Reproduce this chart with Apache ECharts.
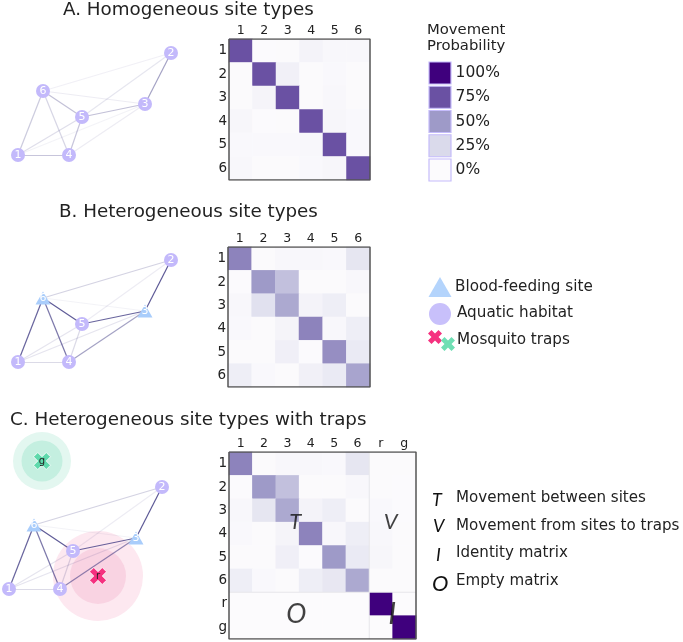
<!DOCTYPE html>
<html><head><meta charset="utf-8">
<style>html,body{margin:0;padding:0;background:#fff}#c{width:683px;height:642px}</style>
<script src="https://cdn.jsdelivr.net/npm/echarts@6/dist/echarts.min.js"></script>
</head><body><div id="c"></div>
<script>
const sites = ['1','2','3','4','5','6'];
const trapNames = ['r','g'];
const matrixA = [
 [75,.5,1,6,3,3],
 [1,75,8,1,2,1],
 [1,5,75,1,3,1],
 [4,.5,1,75,4,2],
 [2,2,2,3,75,2],
 [3,1,1,2,4,75]];
const matrixB = [
 [58,1,3,3,2,16],
 [.5,50,35,1,1,3],
 [3,20,44,6,10,1],
 [2,1,5,58,3,10],
 [1,1,9,.5,54,13],
 [10,2,1,8,13,46]];
const matrixC = [
 [58,1,3,3,2,16,1,1],
 [.5,50,35,1,1,3,1,.5],
 [3,16,44,6,10,1,2,.5],
 [2,1,5,58,3,10,3,1],
 [1,1,9,.5,50,13,4,1],
 [10,2,1,10,15,44,1,1],
 [0,0,0,0,0,0,100,0],
 [0,0,0,0,0,0,0,100]];
const siteX = [0,153,127,51,64,25];
const siteY = [0,102,51,0,38,64];
const linkPairs = [[0,3],[0,5],[0,4],[3,4],[3,5],[4,5],[2,4],[1,2],[1,5],[1,4],[2,5],[2,3],[0,2]];
const linkWeightsA = [.28,.25,.16,.28,.2,.3,.3,.45,.07,.12,.09,.09,.06];
const linkWeightsB = [.18,.75,.13,.18,.65,.8,.75,.8,.22,.09,.06,.45,.13];
const linkWeightsC = [.18,.75,.13,.18,.65,.8,.75,.8,.22,.09,.06,.55,.13];
const blood = [2,5];
const trapX = [89,33];
const trapY = [13,128];
const legendValues = [100,75,50,25,0];
const ramp = ['#fcfbfd','#dadaeb','#9e9ac8','#6a51a3','#3f007d'];
const FONT = 'DejaVu Sans', INK = '#222';
const cross='path://M2.5 0L5 2.5L7.5 0L10 2.5L7.5 5L10 7.5L7.5 10L5 7.5L2.5 10L0 7.5L2.5 5L0 2.5Z';

const grid=[], xAxis=[], yAxis=[], series=[], heatIdx=[];

function matrixPanel(matrix, labels, rect, dividers){
  const g = grid.length, n = labels.length;
  const cat = (inv,extra)=>Object.assign({type:'category',data:labels,gridIndex:g,inverse:inv,
    axisLine:{show:false},axisTick:{show:false},splitLine:{show:false}},extra);
  xAxis.push(cat(false,{position:'top',axisLabel:{fontFamily:FONT,color:INK,fontSize:12.5,margin:2,interval:0}}));
  yAxis.push(cat(true,{axisLabel:{fontFamily:FONT,color:INK,fontSize:13.5,margin:2,interval:0}}));
  grid.push(rect);
  const vx = xAxis.length, vy = yAxis.length;
  xAxis.push({type:'value',show:false,min:0,max:n,gridIndex:g,splitLine:{show:false}});
  yAxis.push({type:'value',show:false,min:0,max:n,gridIndex:g,inverse:true,splitLine:{show:false}});
  const cells=[];
  matrix.forEach((row,r)=>row.forEach((v,c)=>cells.push([c,r,v])));
  heatIdx.push(series.length);
  series.push({type:'heatmap',xAxisIndex:vx-1,yAxisIndex:vy-1,data:cells,silent:true,z:2,
    itemStyle:{borderWidth:0},emphasis:{disabled:true}});
  if(dividers) dividers.forEach(d=>series.push({type:'line',xAxisIndex:vx,yAxisIndex:vy,silent:true,symbol:'none',z:3,
    data:d,lineStyle:{color:'#e6e6ea',width:1}}));
  series.push({type:'line',xAxisIndex:vx,yAxisIndex:vy,silent:true,symbol:'none',z:4,
    data:[[0,0],[n,0],[n,n],[0,n],[0,0]],lineStyle:{color:'#555',width:1.5}});
  return {vx,vy};
}

function network(weights, triangles, rect, traps){
  const g = grid.length;
  grid.push(rect);
  const xi = xAxis.length, yi = yAxis.length;
  xAxis.push({type:'value',show:false,min:-9,max:191,gridIndex:g,splitLine:{show:false}});
  yAxis.push({type:'value',show:false,min:-30,max:140,gridIndex:g,splitLine:{show:false}});
  if(traps){
    series.push({type:'scatter',xAxisIndex:xi,yAxisIndex:yi,silent:true,z:1,data:[
      {value:[trapX[0],trapY[0]],symbolSize:90,itemStyle:{color:'#fde8f0',opacity:1}},
      {value:[trapX[0],trapY[0]],symbolSize:56,itemStyle:{color:'#f9d3e2',opacity:1}},
      {value:[trapX[1],trapY[1]],symbolSize:58,itemStyle:{color:'#e3f7f0',opacity:1}},
      {value:[trapX[1],trapY[1]],symbolSize:41,itemStyle:{color:'#c4efe0',opacity:1}}]});
  }
  series.push({type:'graph',coordinateSystem:'cartesian2d',xAxisIndex:xi,yAxisIndex:yi,layout:'none',silent:true,z:2,
    data:sites.map((s,i)=>{
      const tri = triangles.includes(i);
      return {name:s,value:[siteX[i],siteY[i]],symbol:tri?'triangle':'circle',symbolSize:tri?[15,13]:14,
        itemStyle:{color:tri?'#a9cdfb':'#c3b9fb',opacity:1},
        label:{show:true,position:'inside',color:'#fff',fontSize:11,fontFamily:FONT,formatter:s}};
    }),
    links:linkPairs.map((p,i)=>({source:p[0],target:p[1],
      lineStyle:{color:'#35307c',width:1.2,opacity:weights[i],curveness:0}}))});
  if(traps){
    series.push({type:'scatter',xAxisIndex:xi,yAxisIndex:yi,silent:true,z:3,symbol:cross,symbolSize:17,
      label:{show:true,position:'inside',color:'#222',fontSize:10,fontFamily:FONT,formatter:p=>p.name},
      data:[
      {name:trapNames[0],value:[trapX[0],trapY[0]],itemStyle:{color:'#f5317f',borderColor:'#fff',borderWidth:.8,opacity:1}},
      {name:trapNames[1],value:[trapX[1],trapY[1]],itemStyle:{color:'#5fd9ac',borderColor:'#fff',borderWidth:.8,opacity:1}}]});
  }
}

matrixPanel(matrixA,sites,{left:229,top:39,width:141,height:141});
matrixPanel(matrixB,sites,{left:228,top:247,width:142,height:140});
const cPanel = matrixPanel(matrixC,sites.concat(trapNames),{left:229,top:452,width:187,height:187},
  [[[6,0],[6,8]],[[0,6],[8,6]]]);
// block letters
const blockLetters = [['T',2.83,2.97,22],['V',6.92,2.97,22],['O',2.88,6.93,27],['I',6.98,6.93,30]];
series.push({type:'scatter',xAxisIndex:cPanel.vx,yAxisIndex:cPanel.vy,silent:true,z:6,symbolSize:0,
  data:blockLetters.map(b=>({name:b[0],value:[b[1],b[2]],
    label:{fontSize:b[3]}})),
  label:{show:true,position:'inside',formatter:p=>p.name,fontFamily:'Lato',fontStyle:'italic',fontWeight:400,color:'#111'}});

network(linkWeightsA,[],{left:9,top:15,width:200,height:170},false);
network(linkWeightsB,blood,{left:9,top:222,width:200,height:170},false);
network(linkWeightsC,blood,{left:0,top:449,width:200,height:170},true);

// colour scale legend
{
  const g = grid.length;
  grid.push({left:429,top:73,width:22,height:97});
  const xi=xAxis.length, yi=yAxis.length;
  xAxis.push({type:'value',show:false,min:-1,max:1,gridIndex:g,splitLine:{show:false}});
  yAxis.push({type:'value',show:false,min:0,max:100,inverse:true,gridIndex:g,splitLine:{show:false}});
  heatIdx.push(series.length);
  series.push({type:'scatter',xAxisIndex:xi,yAxisIndex:yi,silent:true,z:2,symbol:'rect',symbolSize:22,
    data:legendValues.map((v,i)=>[0,i*25,v]),
    encode:{x:0,y:1},
    itemStyle:{borderColor:'#c5bcfb',borderWidth:1.2,opacity:1},
    label:{show:true,position:'right',distance:4,fontFamily:FONT,fontSize:15.5,color:INK,formatter:p=>p.value[2]+'%'}});
}
// site legend keys
{
  const g = grid.length;
  grid.push({left:420,top:280,width:40,height:70});
  const xi=xAxis.length, yi=yAxis.length;
  xAxis.push({type:'value',show:false,min:0,max:40,gridIndex:g,splitLine:{show:false}});
  yAxis.push({type:'value',show:false,min:0,max:70,inverse:true,gridIndex:g,splitLine:{show:false}});
  series.push({type:'scatter',xAxisIndex:xi,yAxisIndex:yi,silent:true,z:2,data:[
    {value:[20,7],symbol:'triangle',symbolSize:[23,20],itemStyle:{color:'#b4d4fc',opacity:1}},
    {value:[20,34],symbol:'circle',symbolSize:22,itemStyle:{color:'#c8c0fb',opacity:1}},
    {value:[15,57],symbol:cross,symbolSize:14,itemStyle:{color:'#f5317f',opacity:1}},
    {value:[28,64],symbol:cross,symbolSize:14,itemStyle:{color:'#6fdfb4',opacity:1}}]});
}

const txt=(text,x,y,fs,extra)=>({type:'text',left:x,top:y,silent:true,
  style:Object.assign({text,fontFamily:FONT,fontSize:fs,fill:INK},extra||{})});
const graphic=[
  txt('Movement',427,23,14.8), txt('Probability',427,39,14.8),
  txt('Blood-feeding site',455,280,15.2), txt('Aquatic habitat',457,306,15.2), txt('Mosquito traps',457,333,15.2),
  txt('Movement between sites',456,491,15.1), txt('Movement from sites to traps',456,519,15.1),
  txt('Identity matrix',456,546,15.1), txt('Empty matrix',456,574,15.1)
];
[['T',432,491,18],['V',433,517,18],['I',436,546,18],['O',432,573,22]].forEach(l=>graphic.push(
  txt(l[0],l[1],l[2],l[3],{fontFamily:'Lato',fontStyle:'italic',fontWeight:400,fill:'#111'})));

const titleStyle={fontFamily:FONT,fontSize:18.3,fontWeight:'normal',color:INK};
const option={animation:false,backgroundColor:'#fff',
  title:[
   {text:'A. Homogeneous site types',left:63,top:1,padding:0,textStyle:titleStyle},
   {text:'B. Heterogeneous site types',left:59,top:203,padding:0,textStyle:titleStyle},
   {text:'C. Heterogeneous site types with traps',left:10,top:411,padding:0,textStyle:titleStyle}],
  visualMap:[{type:'continuous',show:false,min:0,max:100,dimension:2,seriesIndex:heatIdx,inRange:{color:ramp}}],
  grid,xAxis,yAxis,series,graphic};
const chart=echarts.init(document.getElementById('c'));
chart.setOption(option);
</script></body></html>
